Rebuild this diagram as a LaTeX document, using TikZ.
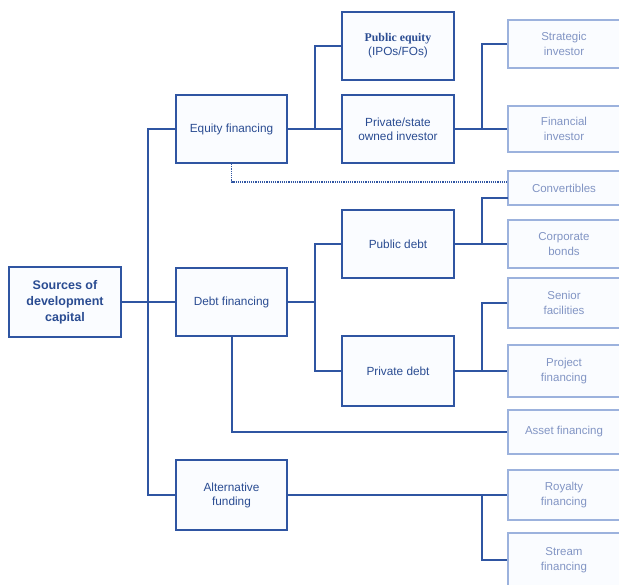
\documentclass[tikz,border=0pt]{standalone}
\usepackage{fontspec}
\setmainfont{Liberation Sans}
\newfontfamily\pubfont{Liberation Serif}
\usetikzlibrary{positioning}

\definecolor{navy}{HTML}{2F55A2}
\definecolor{navytext}{HTML}{2A4C92}
\definecolor{paleline}{HTML}{9CB2DD}
\definecolor{paletext}{HTML}{8295C4}
\definecolor{boxfill}{HTML}{FAFCFF}

\begin{document}
\begin{tikzpicture}[
  x=1pt, y=-1pt,
  box/.style={draw=navy, line width=2pt, fill=boxfill, align=center, inner sep=0pt,
    text=navytext, font=\fontsize{11.8}{14}\selectfont, minimum width=111pt, minimum height=68pt},
  leaf/.style={draw=paleline, line width=1.5pt, fill=boxfill, align=center, inner sep=0pt,
    text=paletext, font=\fontsize{11.5}{14.5}\selectfont, minimum width=112pt},
  link/.style={draw=navy, line width=2pt},
]
\clip (0,0) rectangle (619,585);

% root and first level
\node[box, minimum width=112pt, minimum height=70pt, font=\fontsize{12.5}{16}\selectfont\bfseries]
  (root) at (65,302) {Sources of\\development\\capital};
\node[box] (eq)   at (231.5,129) {Equity financing};
\node[box] (debt) at (231.5,302) {Debt financing};
\node[box, minimum height=70pt] (alt) at (231.5,495) {Alternative\\funding};

% second level
\node[box, minimum width=112pt] (pubeq)    at (398,46)  {{\pubfont\bfseries Public equity}\\(IPOs/FOs)};
\node[box, minimum width=112pt] (priv)     at (398,129) {Private/state\\owned investor};
\node[box, minimum width=112pt] (pubdebt)  at (398,244) {Public debt};
\node[box, minimum width=112pt, minimum height=70pt] (privdebt) at (398,371) {Private debt};

% third level
\node[leaf, minimum height=48pt] (strat)   at (564,44)  {Strategic\\investor};
\node[leaf, minimum height=46pt] (fin)     at (564,129) {Financial\\investor};
\node[leaf, minimum height=34pt] (conv)    at (564,188) {Convertibles};
\node[leaf, minimum height=48pt] (corp)    at (564,244) {Corporate\\bonds};
\node[leaf, minimum height=50pt] (senior)  at (564,303) {Senior\\facilities};
\node[leaf, minimum height=52pt] (project) at (564,371) {Project\\financing};
\node[leaf, minimum height=44pt] (asset)   at (564,432) {Asset financing};
\node[leaf, minimum height=50pt] (royalty) at (564,495) {Royalty\\financing};
\node[leaf, minimum height=54pt] (stream)  at (564,560) {Stream\\financing};

% joints
\coordinate (jR)  at (148,302);
\coordinate (jE)  at (315,129);
\coordinate (jD)  at (315,302);
\coordinate (jP)  at (482,129);
\coordinate (jPD) at (482,244);
\coordinate (jPV) at (482,371);
\coordinate (jA)  at (482,495);
\coordinate (cvIn)  at (508,198);
\coordinate (dotIn) at (508,182);

% trunk
\draw[link] (root) -- (debt);
\draw[link] (eq.west) -| (jR) |- (alt.west);

% equity branch
\draw[link] (eq) -- (jE);
\draw[link] (pubeq.west) -| (jE) -- (priv.west);
\draw[link] (priv) -- (fin);
\draw[link] (strat.west) -| (jP);
\draw[navy, line width=1.2pt, densely dotted] (eq.south) |- (dotIn);

% debt branch
\draw[link] (debt) -- (jD);
\draw[link] (pubdebt.west) -| (jD) |- (privdebt.west);
\draw[link] (pubdebt) -- (corp);
\draw[link] (cvIn) -| (jPD);
\draw[link] (privdebt) -- (project);
\draw[link] (senior.west) -| (jPV);
\draw[link] (debt.south) |- (asset.west);

% alternative branch
\draw[link] (alt) -- (royalty);
\draw[link] (jA) |- (stream.west);
\end{tikzpicture}
\end{document}
